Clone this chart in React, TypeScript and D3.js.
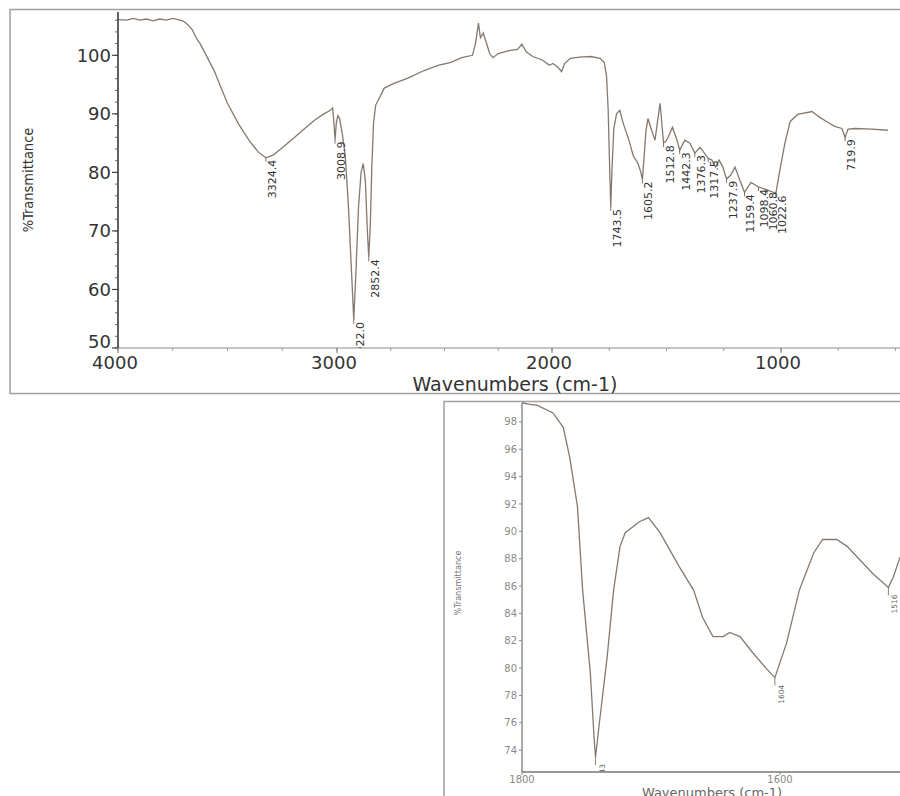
import * as d3 from 'd3';

const W = 900;
const H = 796;

// full-range spectrum: [wavenumber (cm-1), %T]
const fullSpectrum: [number, number][] = [
  [4000, 106.1], [3960, 106.0], [3930, 106.3], [3900, 106.0], [3870, 106.2],
  [3840, 105.9], [3810, 106.2], [3780, 106.0], [3750, 106.3], [3725, 106.1],
  [3700, 105.8], [3680, 105.2], [3660, 104.3], [3640, 102.8], [3625, 102.0],
  [3600, 100.2], [3560, 97.3], [3530, 94.5], [3500, 91.8], [3450, 88.3],
  [3400, 85.4], [3360, 83.5], [3324.4, 82.5], [3290, 83.0], [3250, 84.2],
  [3200, 85.8], [3150, 87.4], [3100, 89.0], [3060, 90.0], [3030, 90.6],
  [3020, 91.0], [3015, 89.0], [3008.9, 85.6], [3003, 88.5], [2996, 89.7],
  [2988, 89.2], [2975, 86.5], [2962, 83.0], [2948, 75.0], [2935, 65.0],
  [2922.0, 54.8], [2912, 63.0], [2900, 74.0], [2888, 80.0], [2878, 81.5],
  [2868, 78.5], [2860, 71.0], [2852.4, 65.5], [2845, 71.0], [2838, 81.0],
  [2830, 88.5], [2820, 91.5], [2806, 92.5], [2780, 94.4], [2735, 95.2],
  [2670, 96.1], [2595, 97.4], [2530, 98.3], [2470, 98.8], [2420, 99.6],
  [2370, 100.0], [2356, 102.0], [2342, 105.5], [2333, 103.0], [2320, 103.8],
  [2305, 102.1], [2290, 100.3], [2275, 99.6], [2250, 100.3], [2200, 100.8],
  [2160, 101.0], [2140, 101.9], [2120, 100.6], [2090, 99.8], [2045, 99.2],
  [2012, 98.3], [1996, 98.6], [1975, 98.0], [1958, 97.2], [1945, 98.6],
  [1920, 99.5], [1880, 99.7], [1830, 99.8], [1790, 99.5], [1772, 98.8],
  [1762, 96.5], [1755, 91.0], [1749, 82.0], [1743.5, 74.1], [1738, 80.5],
  [1730, 87.5], [1718, 90.0], [1704, 90.6], [1690, 88.5], [1664, 85.5],
  [1645, 82.8], [1625, 81.6], [1612, 80.0], [1605.2, 78.8], [1598, 82.5],
  [1590, 87.0], [1581, 89.2], [1570, 87.8], [1559, 86.5], [1550, 85.5],
  [1540, 88.5], [1528, 91.8], [1519, 87.7], [1512.8, 85.0], [1503, 85.3],
  [1493, 86.0], [1474, 87.7], [1454, 85.5], [1442.3, 83.8], [1420, 85.5],
  [1398, 85.0], [1376.3, 83.3], [1354, 84.3], [1317.5, 82.4], [1302, 82.1],
  [1286, 80.9], [1270, 82.1], [1254, 80.9], [1237.9, 78.9], [1220, 79.5],
  [1201, 80.9], [1180, 78.7], [1159.4, 76.6], [1131, 78.3], [1098.4, 77.5],
  [1060.8, 77.0], [1022.6, 76.4], [1008, 79.7], [984, 84.8], [960, 88.7],
  [927, 89.9], [864, 90.4], [845, 89.8], [830, 89.4], [801, 88.7],
  [768, 87.9], [734, 87.5], [719.9, 86.0], [707, 87.4], [677, 87.5],
  [603, 87.4], [533, 87.2],
];

const fullPeaks = [
  '3324.4', '3008.9', '2922.0', '2852.4', '1743.5', '1605.2', '1512.8', '1442.3',
  '1376.3', '1317.5', '1237.9', '1159.4', '1098.4', '1060.8', '1022.6', '719.9',
];

const fullYTicks = [50, 60, 70, 80, 90, 100];
const fullXTicks = [4000, 3000, 2000, 1000];

// expanded carbonyl region
const zoomSpectrum: [number, number][] = [
  [1800, 99.4], [1795, 99.3], [1788, 99.2], [1776, 98.65], [1768, 97.6],
  [1763, 95.4], [1757, 91.8], [1753, 85.7], [1747, 79.6], [1744, 74.7],
  [1743, 73.5], [1740, 76.0], [1734, 80.8], [1729, 85.7], [1724, 88.9],
  [1720, 89.9], [1709, 90.7], [1702, 91.0], [1693, 89.9], [1678, 87.4],
  [1667, 85.7], [1660, 83.7], [1652, 82.3], [1644, 82.3], [1639, 82.6],
  [1631, 82.3], [1621, 81.1], [1610, 79.9], [1604, 79.3], [1595, 81.8],
  [1585, 85.7], [1574, 88.4], [1567, 89.4], [1556, 89.4], [1548, 88.9],
  [1538, 87.9], [1528, 86.9], [1516, 85.9], [1512, 86.7], [1507, 88.1],
];

const zoomPeaks = ['1743', '1604', '1516'];
const zoomYTicks = [74, 76, 78, 80, 82, 84, 86, 88, 90, 92, 94, 96, 98];
const zoomXTicks = [1800, 1600];

function valueAt(data: [number, number][], wn: number) {
  for (let i = 1; i < data.length; i++) {
    const [w0, t0] = data[i - 1];
    const [w1, t1] = data[i];
    if (wn <= w0 && wn >= w1) return t0 + ((wn - w0) / (w1 - w0)) * (t1 - t0);
  }
  return data[data.length - 1][1];
}

export default function App() {
  // top panel
  const T = { left: 118, right: 900, top: 12, bottom: 348 };
  const xTop = d3.scaleLinear().domain([4000, 3000, 2000, 1000, 480]).range([T.left, 337, 552, 781, T.right]);
  const yTop = d3.scaleLinear().domain([50, 107.4]).range([T.bottom, T.top]);
  const lineTop = d3.line<[number, number]>().x(d => xTop(d[0])).y(d => yTop(d[1]));

  // bottom panel
  const B = { left: 522, right: 900, top: 400, bottom: 772 };
  const xBot = d3.scaleLinear().domain([1800, 1507]).range([B.left, B.right]);
  const yBot = d3.scaleLinear().domain([72.4, 99.6]).range([B.bottom, B.top]);
  const lineBot = d3.line<[number, number]>().x(d => xBot(d[0])).y(d => yBot(d[1]));

  const minorY = d3.range(50, 107, 2);
  const minorX = d3.range(500, 4001, 250);

  const curveColor = '#85796f';
  const textColor = '#333';

  return (
    <svg width={W} height={H} style={{ position: 'absolute', left: 0, top: 0, background: '#fff' }}
      fontFamily="'DejaVu Sans', 'Liberation Sans', sans-serif">
      <defs>
        <clipPath id="clipTop">
          <rect x={T.left} y={T.top} width={T.right - T.left} height={T.bottom - T.top} />
        </clipPath>
        <clipPath id="clipBot">
          <rect x={B.left} y={B.top} width={B.right - B.left} height={B.bottom - B.top} />
        </clipPath>
      </defs>

      {/* ---------- top panel ---------- */}
      <rect x={10} y={9.5} width={920} height={384} fill="none" stroke="#a0a0a0" strokeWidth={1.5} />

      <g clipPath="url(#clipTop)">
        <path d={lineTop(fullSpectrum) || ''} fill="none" stroke={curveColor} strokeWidth={1.3} />
        {fullPeaks.map(p => {
          const wn = +p;
          const px = xTop(wn);
          const py = yTop(valueAt(fullSpectrum, wn));
          return (
            <g key={p}>
              <line x1={px} x2={px} y1={py} y2={py + 4} stroke="#555" strokeWidth={0.8} />
              <text transform={`translate(${px + 10},${py + 2}) rotate(-90)`} textAnchor="end"
                fontSize={11} fill={textColor}>{p}</text>
            </g>
          );
        })}
      </g>

      {/* axes */}
      <line x1={T.left} x2={T.right} y1={T.bottom} y2={T.bottom} stroke="#8a8a8a" strokeWidth={1.2} />
      <line x1={T.left} x2={T.left} y1={T.top} y2={T.bottom} stroke="#3a3a3a" strokeWidth={1.6} />
      {minorY.map(v => (
        <line key={'my' + v} x1={T.left - 3} x2={T.left} y1={yTop(v)} y2={yTop(v)} stroke="#666" strokeWidth={1} />
      ))}
      {fullYTicks.map(v => (
        <g key={'y' + v}>
          <line x1={T.left - 6} x2={T.left} y1={yTop(v)} y2={yTop(v)} stroke="#444" strokeWidth={1.2} />
          <text x={T.left - 7} y={Math.min(yTop(v), T.bottom - 6)} dy="0.36em" textAnchor="end"
            fontSize={18} fill={textColor}>{v}</text>
        </g>
      ))}
      {minorX.map(v => (
        <line key={'mx' + v} x1={xTop(v)} x2={xTop(v)} y1={T.bottom} y2={T.bottom + 3} stroke="#999" strokeWidth={1} />
      ))}
      {fullXTicks.map(v => (
        <g key={'x' + v}>
          <line x1={xTop(v)} x2={xTop(v)} y1={T.bottom} y2={T.bottom + 5} stroke="#777" strokeWidth={1} />
          <text x={xTop(v) - 3} y={369} textAnchor="middle" fontSize={18} fill={textColor}>{v}</text>
        </g>
      ))}
      <text x={515} y={391} textAnchor="middle" fontSize={19} fill={textColor}>Wavenumbers (cm-1)</text>
      <text transform="translate(33,180) rotate(-90)" textAnchor="middle" fontSize={14.5}
        fontFamily="'DejaVu Sans Condensed', 'DejaVu Sans', sans-serif" fill={textColor}>%Transmittance</text>

      {/* ---------- bottom panel ---------- */}
      <rect x={444} y={401.5} width={500} height={420} fill="none" stroke="#a0a0a0" strokeWidth={1.5} />

      <g clipPath="url(#clipBot)">
        <path d={lineBot(zoomSpectrum) || ''} fill="none" stroke={curveColor} strokeWidth={1.3} />
        {zoomPeaks.map(p => {
          const wn = +p;
          const px = xBot(wn);
          const py = yBot(valueAt(zoomSpectrum, wn));
          return (
            <g key={p}>
              <line x1={px} x2={px} y1={py} y2={py + 8} stroke="#666" strokeWidth={0.8} />
              <text transform={`translate(${px + 9},${py + 7}) rotate(-90)`} textAnchor="end"
                fontSize={7.5} fill="#666">{p}</text>
            </g>
          );
        })}
      </g>

      <line x1={B.left} x2={B.right} y1={B.bottom} y2={B.bottom} stroke="#777" strokeWidth={1.6} />
      <line x1={B.left} x2={B.left} y1={B.top + 3} y2={B.bottom} stroke="#666" strokeWidth={1.1} />
      {zoomYTicks.map(v => (
        <g key={'zy' + v}>
          <line x1={B.left - 3} x2={B.left} y1={yBot(v)} y2={yBot(v)} stroke="#888" strokeWidth={1} />
          <text x={B.left - 5} y={yBot(v)} dy="0.36em" textAnchor="end" fontSize={10} fill="#8a8a8a">{v}</text>
        </g>
      ))}
      {zoomXTicks.map(v => (
        <g key={'zx' + v}>
          <line x1={xBot(v)} x2={xBot(v)} y1={B.bottom} y2={B.bottom + 3} stroke="#888" strokeWidth={1} />
          <text x={xBot(v)} y={783} textAnchor="middle" fontSize={10} fill="#8a8a8a">{v}</text>
        </g>
      ))}
      <text x={712} y={797} textAnchor="middle" fontSize={13} fill="#666">Wavenumbers (cm-1)</text>
      <text transform="translate(461,583) rotate(-90)" textAnchor="middle" fontSize={9}
        fontFamily="'DejaVu Sans Condensed', 'DejaVu Sans', sans-serif" fill="#777">%Transmittance</text>
    </svg>
  );
}
